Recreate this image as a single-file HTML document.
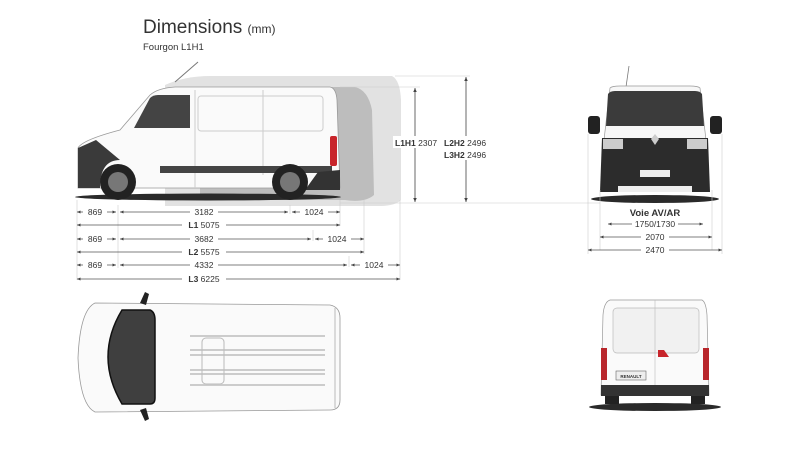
<!DOCTYPE html>
<html><head><meta charset="utf-8"><style>
html,body{margin:0;padding:0;background:#fff;width:800px;height:450px;overflow:hidden}
svg{display:block}
text{font-family:"Liberation Sans",sans-serif;fill:#333}
</style></head><body>
<svg width="800" height="450" viewBox="0 0 800 450" xmlns="http://www.w3.org/2000/svg">
<defs>
<marker id="a" markerWidth="6" markerHeight="6" refX="5" refY="3" orient="auto-start-reverse"><path d="M0,0.8 L5,3 L0,5.2z" fill="#444"/></marker>
</defs>
<text x="143" y="33" font-size="19" fill="#222">Dimensions <tspan font-size="12">(mm)</tspan></text>
<text x="143" y="50" font-size="9.5" fill="#222">Fourgon L1H1</text>

<!-- gray extension silhouettes -->
<path d="M165,85 Q185,76 210,76 L392,76 Q400,80 401,100 L401,200 Q395,206 380,206 L165,206z" fill="#e2e2e2"/>
<path d="M200,87 L355,87 Q368,90 372,110 L374,195 Q365,203 345,200 L200,200z" fill="#bdbdbd"/>
<path d="M175,82 L198,62" stroke="#777" stroke-width="1"/>

<!-- side van -->
<ellipse cx="208" cy="197" rx="133" ry="3.5" fill="#2a2a2a"/>
<path d="M78,148 Q82,140 120,130 L150,95 Q158,88 175,87 L330,87 Q336,88 337,100 L340,188 L78,188z" fill="#fafafa" stroke="#999" stroke-width="0.8"/>
<path d="M134,128 L150,98 Q153,95 158,95 L190,95 L190,128z" fill="#444"/>
<rect x="198" y="96" width="125" height="35" rx="3" fill="none" stroke="#ccc"/>
<line x1="263" y1="90" x2="263" y2="175" stroke="#ccc"/>
<line x1="195" y1="90" x2="195" y2="188" stroke="#ccc"/>
<path d="M78,148 L78,188 L100,188 Q100,160 120,160 L96,140z" fill="#3a3a3a"/>
<rect x="160" y="166" width="172" height="7" fill="#444"/>
<path d="M318,172 L340,170 L340,190 L305,190z" fill="#333"/>
<rect x="330" y="136" width="7" height="30" rx="2" fill="#c8252b"/>
<circle cx="118" cy="182" r="18" fill="#222"/><circle cx="118" cy="182" r="10" fill="#777"/>
<circle cx="290" cy="182" r="18" fill="#222"/><circle cx="290" cy="182" r="10" fill="#777"/>

<!-- height dims -->
<line x1="340" y1="87" x2="420" y2="87" stroke="#ccc" stroke-width="0.6"/>
<line x1="395" y1="76" x2="470" y2="76" stroke="#ccc" stroke-width="0.6"/>
<line x1="340" y1="203" x2="600" y2="203" stroke="#ccc" stroke-width="0.6"/>
<line x1="415" y1="88" x2="415" y2="202" stroke="#444" stroke-width="0.8" marker-start="url(#a)" marker-end="url(#a)"/>
<line x1="466" y1="77" x2="466" y2="202" stroke="#444" stroke-width="0.8" marker-start="url(#a)" marker-end="url(#a)"/>
<rect x="393" y="136" width="44" height="12" fill="#fff"/>
<text x="395" y="146" font-size="8.5"><tspan font-weight="bold">L1H1</tspan> 2307</text>
<rect x="442" y="136" width="50" height="24" fill="#fff"/>
<text x="444" y="146" font-size="8.5"><tspan font-weight="bold">L2H2</tspan> 2496</text>
<text x="444" y="158" font-size="8.5"><tspan font-weight="bold">L3H2</tspan> 2496</text>

<!-- length dims -->
<g stroke="#ccc" stroke-width="0.6">
<line x1="77" y1="200" x2="77" y2="280"/>
<line x1="118" y1="205" x2="118" y2="268"/>
<line x1="290" y1="205" x2="290" y2="214"/>
<line x1="340" y1="200" x2="340" y2="226"/>
<line x1="313" y1="230" x2="313" y2="241"/>
<line x1="364" y1="200" x2="364" y2="254"/>
<line x1="349" y1="256" x2="349" y2="267"/>
<line x1="400" y1="200" x2="400" y2="280"/>
</g>
<g stroke="#555" stroke-width="0.7" fill="none">
<line x1="77" y1="212" x2="116" y2="212" marker-start="url(#a)" marker-end="url(#a)"/>
<line x1="120" y1="212" x2="288" y2="212" marker-start="url(#a)" marker-end="url(#a)"/>
<line x1="292" y1="212" x2="340" y2="212" marker-start="url(#a)" marker-end="url(#a)"/>
<line x1="77" y1="225" x2="340" y2="225" marker-start="url(#a)" marker-end="url(#a)"/>
<line x1="77" y1="239" x2="116" y2="239" marker-start="url(#a)" marker-end="url(#a)"/>
<line x1="120" y1="239" x2="311" y2="239" marker-start="url(#a)" marker-end="url(#a)"/>
<line x1="315" y1="239" x2="364" y2="239" marker-start="url(#a)" marker-end="url(#a)"/>
<line x1="77" y1="252" x2="364" y2="252" marker-start="url(#a)" marker-end="url(#a)"/>
<line x1="77" y1="265" x2="116" y2="265" marker-start="url(#a)" marker-end="url(#a)"/>
<line x1="120" y1="265" x2="347" y2="265" marker-start="url(#a)" marker-end="url(#a)"/>
<line x1="351" y1="265" x2="400" y2="265" marker-start="url(#a)" marker-end="url(#a)"/>
<line x1="77" y1="279" x2="400" y2="279" marker-start="url(#a)" marker-end="url(#a)"/>
</g>
<g font-size="8.5" text-anchor="middle">
<rect x="83" y="206" width="24" height="11" fill="#fff"/><text x="95" y="215">869</text>
<rect x="190" y="206" width="28" height="11" fill="#fff"/><text x="204" y="215">3182</text>
<rect x="300" y="206" width="28" height="11" fill="#fff"/><text x="314" y="215">1024</text>
<rect x="182" y="219" width="44" height="11" fill="#fff"/><text x="204" y="228"><tspan font-weight="bold">L1</tspan>  5075</text>
<rect x="83" y="233" width="24" height="11" fill="#fff"/><text x="95" y="242">869</text>
<rect x="190" y="233" width="28" height="11" fill="#fff"/><text x="204" y="242">3682</text>
<rect x="323" y="233" width="28" height="11" fill="#fff"/><text x="337" y="242">1024</text>
<rect x="182" y="246" width="44" height="11" fill="#fff"/><text x="204" y="255"><tspan font-weight="bold">L2</tspan> 5575</text>
<rect x="83" y="259" width="24" height="11" fill="#fff"/><text x="95" y="268">869</text>
<rect x="190" y="259" width="28" height="11" fill="#fff"/><text x="204" y="268">4332</text>
<rect x="360" y="259" width="28" height="11" fill="#fff"/><text x="374" y="268">1024</text>
<rect x="182" y="273" width="44" height="11" fill="#fff"/><text x="204" y="282"><tspan font-weight="bold">L3</tspan> 6225</text>
</g>

<!-- front view -->
<line x1="626" y1="87" x2="629" y2="66" stroke="#777" stroke-width="0.8"/>
<ellipse cx="655" cy="199" rx="64" ry="4" fill="#2a2a2a"/>
<path d="M610,88 Q612,86 620,86 L690,86 Q698,86 700,88 L706,140 L604,140z" fill="#f7f7f7" stroke="#999" stroke-width="0.7"/>
<path d="M608,94 Q610,91 615,91 L695,91 Q700,91 702,94 L704,126 L606,126z" fill="#3b3b3b"/>
<rect x="588" y="116" width="12" height="18" rx="3" fill="#222"/>
<rect x="710" y="116" width="12" height="18" rx="3" fill="#222"/>
<path d="M602,138 L708,138 L710,192 L600,192z" fill="#2c2c2c"/>
<rect x="603" y="139" width="20" height="10" fill="#ccc"/><rect x="687" y="139" width="20" height="10" fill="#ccc"/>
<path d="M651,139 L655,134 L659,139 L655,145z" fill="#ccc"/>
<rect x="640" y="170" width="30" height="7" fill="#eee"/>
<rect x="618" y="186" width="74" height="6" fill="#eee"/>
<line x1="600" y1="190" x2="600" y2="250" stroke="#ccc" stroke-width="0.6"/>
<line x1="712" y1="190" x2="712" y2="250" stroke="#ccc" stroke-width="0.6"/>
<line x1="588" y1="134" x2="588" y2="254" stroke="#ccc" stroke-width="0.6"/>
<line x1="722" y1="134" x2="722" y2="254" stroke="#ccc" stroke-width="0.6"/>
<text x="655" y="216" font-size="9.5" font-weight="bold" text-anchor="middle">Voie AV/AR</text>
<g stroke="#555" stroke-width="0.7">
<line x1="608" y1="224" x2="703" y2="224" marker-start="url(#a)" marker-end="url(#a)"/>
<line x1="600" y1="237" x2="712" y2="237" marker-start="url(#a)" marker-end="url(#a)"/>
<line x1="588" y1="250" x2="722" y2="250" marker-start="url(#a)" marker-end="url(#a)"/>
</g>
<g font-size="8.5" text-anchor="middle">
<rect x="632" y="219" width="46" height="11" fill="#fff"/><text x="655" y="227">1750/1730</text>
<rect x="641" y="232" width="28" height="11" fill="#fff"/><text x="655" y="240">2070</text>
<rect x="641" y="245" width="28" height="11" fill="#fff"/><text x="655" y="253">2470</text>
</g>

<!-- top view -->
<path d="M95,303 L330,305 Q340,307 340,318 L340,400 Q340,410 330,410 L95,412 Q80,405 78,358 Q80,310 95,303z" fill="#fafafa" stroke="#999" stroke-width="0.8"/>
<path d="M122,310 L150,310 Q155,312 155,320 L155,398 Q155,404 150,404 L122,404 Q108,380 108,357 Q108,333 122,310z" fill="#3f3f3f" stroke="#111" stroke-width="1.5"/>
<path d="M140,303 L145,292 L149,294 L146,305z" fill="#222"/>
<path d="M140,410 L145,421 L149,419 L146,408z" fill="#222"/>
<g stroke="#ccc" stroke-width="2">
<line x1="190" y1="336" x2="325" y2="336"/><line x1="190" y1="355" x2="325" y2="355"/>
<line x1="190" y1="370" x2="325" y2="370"/><line x1="190" y1="385" x2="325" y2="385"/>
<line x1="190" y1="350" x2="325" y2="350"/><line x1="190" y1="374" x2="325" y2="374"/>
</g>
<rect x="202" y="338" width="22" height="46" rx="4" fill="none" stroke="#bbb"/>
<line x1="335" y1="308" x2="335" y2="408" stroke="#bbb"/>

<!-- rear view -->
<ellipse cx="655" cy="407" rx="66" ry="4" fill="#2a2a2a"/>
<path d="M610,300 L702,300 Q706,302 707,315 L709,395 L601,395 L603,315 Q604,302 610,300z" fill="#fafafa" stroke="#999" stroke-width="0.7"/>
<rect x="613" y="308" width="86" height="45" rx="4" fill="#f1f1f1" stroke="#bbb" stroke-width="0.7"/>
<line x1="655" y1="300" x2="655" y2="395" stroke="#bbb" stroke-width="0.6"/>
<rect x="601" y="348" width="6" height="32" fill="#b8262b"/><rect x="703" y="348" width="6" height="32" fill="#b8262b"/>
<path d="M658,350 L664,350 L669,357 L658,357z" fill="#c8252b"/>
<rect x="616" y="371" width="30" height="9" fill="#eee" stroke="#666" stroke-width="0.6"/>
<text x="631" y="378" font-size="4.5" font-weight="bold" text-anchor="middle">RENAULT</text>
<path d="M601,385 L709,385 L709,396 L601,396z" fill="#333"/>
<rect x="605" y="396" width="14" height="8" fill="#222"/><rect x="691" y="396" width="14" height="8" fill="#222"/>
</svg>
</body></html>
